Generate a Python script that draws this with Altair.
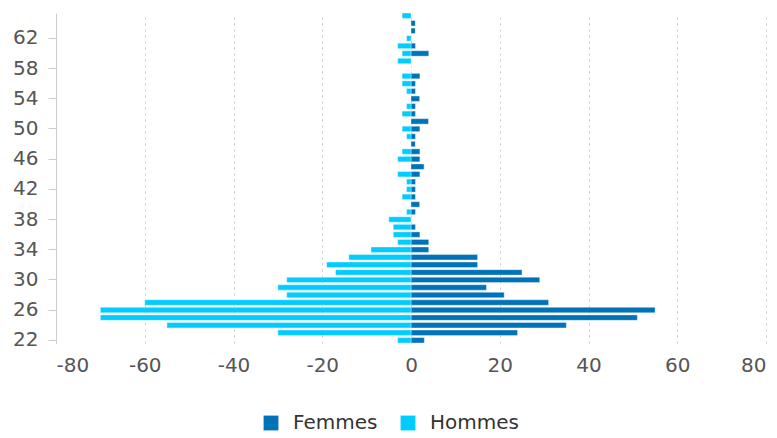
import altair as alt
import pandas as pd

ages = list(range(22, 66))
# values per age 22..65
hommes = [-3, -30, -55, -70, -70, -60, -28, -30, -28, -17, -19, -14, -9, -3, -4, -4, -5, -1,
          0, -2, -1, -1, -3, 0, -3, -2, 0, -1, -2, 0, -2, -1, 0, -1, -2, -2, 0, -3, -2, -3, -1, 0, 0, -2]
femmes = [3, 24, 35, 51, 55, 31, 21, 17, 29, 25, 15, 15, 4, 4, 2, 1, 0, 1,
          2, 1, 1, 1, 2, 3, 2, 2, 1, 1, 2, 4, 1, 1, 2, 1, 1, 2, 0, 0, 4, 1, 0, 1, 1, 0]
series = ["Femmes", "Hommes"]
colors = ["#0073b8", "#00ccff"]
x_ticks = [-80, -60, -40, -20, 0, 20, 40, 60, 80]
y_ticks = [22, 26, 30, 34, 38, 42, 46, 50, 54, 58, 62]

rows = []
for a, h, f in zip(ages, hommes, femmes):
    rows.append({"age": a, "sexe": "Femmes", "valeur": f})
    rows.append({"age": a, "sexe": "Hommes", "valeur": h})
df = pd.DataFrame(rows)

font = "DejaVu Sans"

chart = alt.Chart(df).mark_bar(stroke="#ffffff", strokeWidth=0.6, strokeOpacity=0.6).encode(
    x=alt.X("valeur:Q", scale=alt.Scale(domain=[-80, 80], nice=False),
            axis=alt.Axis(values=x_ticks, title=None, domain=False, ticks=False,
                          grid=True, gridDash=[2, 4], gridColor="#c8c8c8",
                          labelExpr="'' + datum.value",
                          labelFontSize=20, labelFont=font, labelColor="#555555",
                          labelPadding=12)),
    y=alt.Y("age:O", sort="descending",
            scale=alt.Scale(paddingInner=0.28, paddingOuter=0.0),
            axis=alt.Axis(values=y_ticks, title=None, domainColor="#cccccc",
                          tickColor="#cccccc", tickSize=8, labelPadding=10,
                          labelFontSize=20, labelFont=font, labelColor="#555555")),
    color=alt.Color("sexe:N", scale=alt.Scale(domain=series, range=colors),
                    legend=alt.Legend(title=None, orient="none", direction="horizontal",
                                      legendX=205, legendY=400, symbolType="square",
                                      symbolSize=220, symbolStrokeWidth=0,
                                      labelFontSize=20, labelFont=font, labelColor="#333333",
                                      columnPadding=20, labelOffset=12)),
).properties(
    width=710, height=330,
    autosize=alt.AutoSizeParams(type="none"),
    padding={"left": 48, "top": 5, "right": 3, "bottom": 93},
).configure_view(stroke=None)

chart.save("out.html", embed_options={"renderer": "svg", "actions": False})
